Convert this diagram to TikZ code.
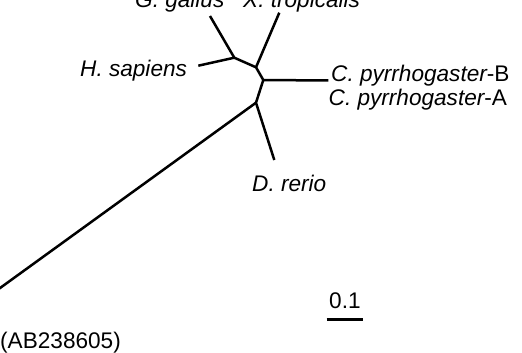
\documentclass[tikz,border=0pt]{standalone}
\usepackage{fontspec}
\setmainfont{Liberation Sans}
\begin{document}
\begin{tikzpicture}[x=1pt,y=-1pt,
  br/.style={line width=2.5pt,line cap=butt,line join=round},
  lab/.style={anchor=base west,inner sep=0pt,font=\fontsize{22.6}{26}\selectfont}]
\useasboundingbox (0,0) rectangle (522,353);
% internal nodes
\coordinate (n1) at (234.3,57.7);
\coordinate (n2) at (256,67.3);
\coordinate (n3) at (263.3,80);
\coordinate (n4) at (256,102.7);
% tips
\coordinate (tG) at (210,16);
\coordinate (tH) at (198.3,65.7);
\coordinate (tX) at (279.3,12.7);
\coordinate (tC) at (328.3,80.5);
\coordinate (tD) at (274.3,160);
\coordinate (tO) at (-2,289.5);
% branches
\draw[br] (tG) -- (n1) -- (n2) -- (n3) -- (n4) -- (tD);
\draw[br] (tH) -- (n1);
\draw[br] (tX) -- (n2);
\draw[br] (n3) -- (tC);
\draw[br] (n4) -- (tO);
% labels
\node[lab] (lG) at (135,8) {\itshape G. gallus};
\node[lab] (lX) at (243,8) {\itshape X. tropicalis};
\node[lab] (lH) at (80,76.5) {\itshape H. sapiens};
\node[lab] (lCB) at (331,81.7) {\itshape C. pyrrhogaster\upshape-B};
\node[lab] (lCA) at (328.5,105) {\itshape C. pyrrhogaster\upshape-A};
\node[lab] (lD) at (252,191.5) {\itshape D. rerio};
\node[lab] (lS) at (329,308) {0.1};
\node[lab] (lO) at (0,348) {(AB238605)};
% scale bar
\coordinate (s1) at (326.7,319.3);
\coordinate (s2) at (363.3,319.3);
\draw[line width=2.5pt] (s1) -- (s2);
\end{tikzpicture}
\end{document}
